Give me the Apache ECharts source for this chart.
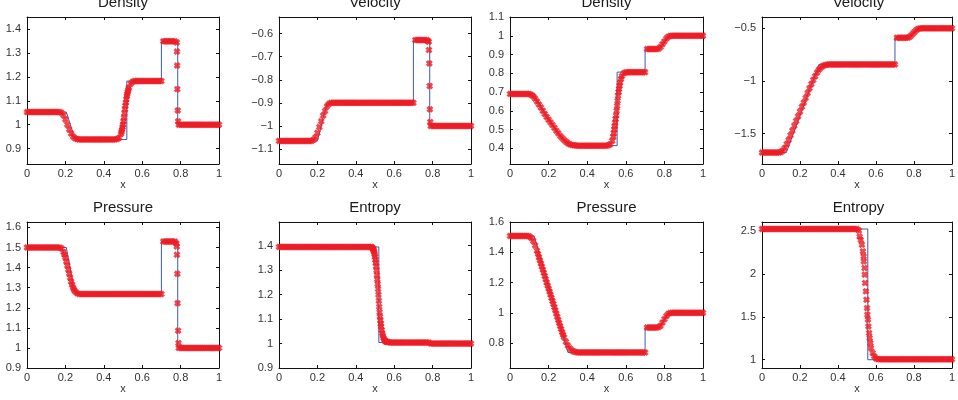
<!DOCTYPE html>
<html>
<head>
<meta charset="utf-8">
<script src="https://cdn.jsdelivr.net/npm/echarts@6/dist/echarts.min.js"></script>
<style>
  html, body { margin: 0; padding: 0; background: #fff; }
  #main { width: 958px; height: 400px; }
</style>
</head>
<body>
<div id="main"></div>
<script>
// mesh points of the numerical solution
const gridX = [
  0, 0.01, 0.02, 0.03, 0.04, 0.05, 0.06, 0.07, 0.08, 0.09,
  0.1, 0.11, 0.12, 0.13, 0.14, 0.15, 0.16, 0.17, 0.18, 0.19,
  0.2, 0.21, 0.22, 0.23, 0.24, 0.25, 0.26, 0.27, 0.28, 0.29,
  0.3, 0.31, 0.32, 0.33, 0.34, 0.35, 0.36, 0.37, 0.38, 0.39,
  0.4, 0.41, 0.42, 0.43, 0.44, 0.45, 0.46, 0.47, 0.48, 0.49,
  0.5, 0.51, 0.52, 0.53, 0.54, 0.55, 0.56, 0.57, 0.58, 0.59,
  0.6, 0.61, 0.62, 0.63, 0.64, 0.65, 0.66, 0.67, 0.68, 0.69,
  0.7, 0.71, 0.72, 0.73, 0.74, 0.75, 0.76, 0.77, 0.78, 0.79,
  0.8, 0.81, 0.82, 0.83, 0.84, 0.85, 0.86, 0.87, 0.88, 0.89,
  0.9, 0.91, 0.92, 0.93, 0.94, 0.95, 0.96, 0.97, 0.98, 0.99,
  1
];

/* ---- left problem ---- */
const numRho1 = [
  1.053, 1.053, 1.053, 1.053, 1.053, 1.053, 1.053, 1.053, 1.053, 1.053,
  1.053, 1.053, 1.053, 1.053, 1.053, 1.053, 1.053, 1.053, 1.05, 1.04,
  1.022, 1.0, 0.98, 0.963, 0.95, 0.943, 0.94, 0.938, 0.938, 0.938,
  0.938, 0.938, 0.938, 0.938, 0.938, 0.938, 0.938, 0.938, 0.938, 0.938,
  0.938, 0.938, 0.938, 0.938, 0.938, 0.938, 0.938, 0.94, 0.945, 0.962,
  1.0, 1.065, 1.12, 1.155, 1.172, 1.18, 1.183, 1.183, 1.183, 1.183,
  1.183, 1.183, 1.183, 1.183, 1.183, 1.183, 1.183, 1.183, 1.183, 1.183,
  1.183, 1.35, 1.35, 1.35, 1.35, 1.35, 1.35, 1.35, 1.345, 1.0,
  1.0, 1.0, 1.0, 1.0, 1.0, 1.0, 1.0, 1.0, 1.0, 1.0,
  1.0, 1.0, 1.0, 1.0, 1.0, 1.0, 1.0, 1.0, 1.0, 1.0,
  1.0
];
const fineRho1 = [
  [0.4925, 0.97], [0.495, 0.979], [0.4975, 0.989], [0.5025, 1.014], [0.505, 1.03],
  [0.5075, 1.048], [0.5125, 1.08], [0.515, 1.093], [0.5175, 1.107], [0.5225, 1.129],
  [0.525, 1.138], [0.5275, 1.147], [0.781, 1.307], [0.782, 1.248], [0.783, 1.149],
  [0.785, 1.06], [0.787, 1.014]
];
const exactRho1 = [
  [0, 1.053], [0.205, 1.053], [0.25, 0.938], [0.52, 0.938], [0.52, 1.183],
  [0.7, 1.183], [0.7, 1.35], [0.785, 1.35], [0.785, 1.0], [1, 1.0]
];
const ticksRho1 = [0.9, 1, 1.1, 1.2, 1.3, 1.4];

const numU1 = [
  -1.065, -1.065, -1.065, -1.065, -1.065, -1.065, -1.065, -1.065, -1.065, -1.065,
  -1.065, -1.065, -1.065, -1.065, -1.065, -1.065, -1.065, -1.065, -1.06, -1.05,
  -1.03, -1.005, -0.98, -0.955, -0.935, -0.915, -0.905, -0.9, -0.9, -0.9,
  -0.9, -0.9, -0.9, -0.9, -0.9, -0.9, -0.9, -0.9, -0.9, -0.9,
  -0.9, -0.9, -0.9, -0.9, -0.9, -0.9, -0.9, -0.9, -0.9, -0.9,
  -0.9, -0.9, -0.9, -0.9, -0.9, -0.9, -0.9, -0.9, -0.9, -0.9,
  -0.9, -0.9, -0.9, -0.9, -0.9, -0.9, -0.9, -0.9, -0.9, -0.9,
  -0.9, -0.628, -0.628, -0.628, -0.628, -0.628, -0.628, -0.628, -0.635, -1.0,
  -1.0, -1.0, -1.0, -1.0, -1.0, -1.0, -1.0, -1.0, -1.0, -1.0,
  -1.0, -1.0, -1.0, -1.0, -1.0, -1.0, -1.0, -1.0, -1.0, -1.0,
  -1.0
];
const fineU1 = [
  [0.775, -0.632], [0.781, -0.671], [0.783, -0.729], [0.785, -0.827],
  [0.786, -0.928], [0.788, -0.983]
];
const exactU1 = [
  [0, -1.065], [0.2, -1.065], [0.25, -0.9], [0.7, -0.9], [0.7, -0.628],
  [0.785, -0.628], [0.785, -1.0], [1, -1.0]
];
const ticksU1 = [-1.1, -1, -0.9, -0.8, -0.7, -0.6];

const numP1 = [
  1.5, 1.5, 1.5, 1.5, 1.5, 1.5, 1.5, 1.5, 1.5, 1.5,
  1.5, 1.5, 1.5, 1.5, 1.5, 1.5, 1.5, 1.5, 1.495, 1.478,
  1.45, 1.41, 1.37, 1.33, 1.3, 1.282, 1.273, 1.269, 1.268, 1.268,
  1.268, 1.268, 1.268, 1.268, 1.268, 1.268, 1.268, 1.268, 1.268, 1.268,
  1.268, 1.268, 1.268, 1.268, 1.268, 1.268, 1.268, 1.268, 1.268, 1.268,
  1.268, 1.268, 1.268, 1.268, 1.268, 1.268, 1.268, 1.268, 1.268, 1.268,
  1.268, 1.268, 1.268, 1.268, 1.268, 1.268, 1.268, 1.268, 1.268, 1.268,
  1.268, 1.53, 1.53, 1.53, 1.53, 1.53, 1.53, 1.53, 1.505, 1.0,
  1.0, 1.0, 1.0, 1.0, 1.0, 1.0, 1.0, 1.0, 1.0, 1.0,
  1.0, 1.0, 1.0, 1.0, 1.0, 1.0, 1.0, 1.0, 1.0, 1.0,
  1.0
];
const fineP1 = [
  [0.195, 1.465], [0.205, 1.43], [0.215, 1.39], [0.225, 1.35], [0.235, 1.315],
  [0.245, 1.29], [0.778, 1.52], [0.781, 1.464], [0.783, 1.369], [0.784, 1.223],
  [0.787, 1.086], [0.789, 1.024]
];
const exactP1 = [
  [0, 1.5], [0.205, 1.5], [0.25, 1.268], [0.7, 1.268], [0.7, 1.53],
  [0.785, 1.53], [0.785, 1.0], [1, 1.0]
];
const ticksP1 = [0.9, 1, 1.1, 1.2, 1.3, 1.4, 1.5, 1.6];

const numS1 = [
  1.395, 1.395, 1.395, 1.395, 1.395, 1.395, 1.395, 1.395, 1.395, 1.395,
  1.395, 1.395, 1.395, 1.395, 1.395, 1.395, 1.395, 1.395, 1.395, 1.395,
  1.395, 1.395, 1.395, 1.395, 1.395, 1.395, 1.395, 1.395, 1.395, 1.395,
  1.395, 1.395, 1.395, 1.395, 1.395, 1.395, 1.395, 1.395, 1.395, 1.395,
  1.395, 1.395, 1.395, 1.395, 1.395, 1.395, 1.395, 1.395, 1.395, null,
  null, null, null, null, null, null, null, 1.006, 1.004, 1.004,
  1.004, 1.004, 1.004, 1.004, 1.004, 1.004, 1.004, 1.004, 1.004, 1.004,
  1.004, 1.004, 1.004, 1.004, 1.004, 1.004, 1.004, 1.004, 1.004, 1.0,
  1.0, 1.0, 1.0, 1.0, 1.0, 1.0, 1.0, 1.0, 1.0, 1.0,
  1.0, 1.0, 1.0, 1.0, 1.0, 1.0, 1.0, 1.0, 1.0, 1.0,
  1.0
];
const fineS1 = [
  [0.484, 1.394], [0.488, 1.39], [0.49, 1.387], [0.492, 1.384], [0.494, 1.379],
  [0.496, 1.373], [0.498, 1.365], [0.5, 1.355], [0.502, 1.343], [0.504, 1.33],
  [0.506, 1.316], [0.508, 1.299], [0.51, 1.28], [0.512, 1.262], [0.514, 1.243],
  [0.516, 1.223], [0.518, 1.2], [0.52, 1.175], [0.522, 1.15], [0.524, 1.128],
  [0.526, 1.11], [0.528, 1.095], [0.53, 1.081], [0.532, 1.07], [0.535, 1.055],
  [0.538, 1.042], [0.541, 1.032], [0.544, 1.023], [0.548, 1.016], [0.552, 1.011],
  [0.556, 1.008], [0.56, 1.007], [0.565, 1.006]
];
const exactS1 = [
  [0, 1.395], [0.52, 1.395], [0.52, 1.004], [0.785, 1.004], [0.785, 1.0], [1, 1.0]
];
const ticksS1 = [0.9, 1, 1.1, 1.2, 1.3, 1.4];

/* ---- right problem ---- */
const numRho2 = [
  0.69, 0.69, 0.69, 0.69, 0.69, 0.69, 0.69, 0.69, 0.69, 0.69,
  0.69, 0.685, 0.677, 0.665, 0.65, 0.634, 0.617, 0.6, 0.583, 0.567,
  0.552, 0.538, 0.524, 0.509, 0.494, 0.48, 0.466, 0.455, 0.444, 0.435,
  0.427, 0.421, 0.418, 0.416, 0.415, 0.414, 0.414, 0.414, 0.414, 0.414,
  0.414, 0.414, 0.414, 0.414, 0.414, 0.414, 0.414, 0.414, 0.414, 0.414,
  0.414, 0.416, 0.422, 0.44, 0.5, 0.575, 0.68, 0.75, 0.785, 0.8,
  0.805, 0.806, 0.806, 0.806, 0.806, 0.806, 0.806, 0.806, 0.806, 0.806,
  0.806, 0.929, 0.929, 0.929, 0.929, 0.929, 0.929, 0.931, 0.94, 0.955,
  0.97, 0.985, 0.995, 0.999, 1.0, 1.0, 1.0, 1.0, 1.0, 1.0,
  1.0, 1.0, 1.0, 1.0, 1.0, 1.0, 1.0, 1.0, 1.0, 1.0,
  1.0
];
const fineRho2 = [
  [0.535, 0.462], [0.5375, 0.48], [0.5425, 0.518], [0.545, 0.537], [0.5475, 0.556],
  [0.5525, 0.6], [0.555, 0.626], [0.5575, 0.653], [0.5625, 0.7], [0.565, 0.716],
  [0.5675, 0.733], [0.575, 0.77]
];
const exactRho2 = [
  [0, 0.69], [0.125, 0.69], [0.17, 0.607], [0.22, 0.526], [0.26, 0.466],
  [0.3, 0.414], [0.555, 0.414], [0.555, 0.806], [0.7, 0.806], [0.7, 0.929],
  [0.775, 0.929], [0.825, 1.0], [1, 1.0]
];
const ticksRho2 = [0.4, 0.5, 0.6, 0.7, 0.8, 0.9, 1, 1.1];

const numU2 = [
  -1.68, -1.68, -1.68, -1.68, -1.68, -1.68, -1.68, -1.68, -1.68, -1.68,
  -1.675, -1.66, -1.635, -1.6, -1.56, -1.515, -1.47, -1.425, -1.38, -1.335,
  -1.29, -1.245, -1.205, -1.16, -1.115, -1.07, -1.03, -0.99, -0.955, -0.92,
  -0.893, -0.873, -0.858, -0.85, -0.845, -0.843, -0.843, -0.843, -0.843, -0.843,
  -0.843, -0.843, -0.843, -0.843, -0.843, -0.843, -0.843, -0.843, -0.843, -0.843,
  -0.843, -0.843, -0.843, -0.843, -0.843, -0.843, -0.843, -0.843, -0.843, -0.843,
  -0.843, -0.843, -0.843, -0.843, -0.843, -0.843, -0.843, -0.843, -0.843, -0.843,
  -0.843, -0.59, -0.59, -0.59, -0.59, -0.59, -0.59, -0.588, -0.578, -0.56,
  -0.54, -0.522, -0.508, -0.502, -0.5, -0.5, -0.5, -0.5, -0.5, -0.5,
  -0.5, -0.5, -0.5, -0.5, -0.5, -0.5, -0.5, -0.5, -0.5, -0.5,
  -0.5
];
const fineU2 = [];
const exactU2 = [
  [0, -1.68], [0.128, -1.68], [0.3, -0.843], [0.7, -0.843], [0.7, -0.59],
  [0.775, -0.59], [0.825, -0.5], [1, -0.5]
];
const ticksU2 = [-1.5, -1, -0.5];

const numP2 = [
  1.508, 1.508, 1.508, 1.508, 1.508, 1.508, 1.508, 1.508, 1.508, 1.508,
  1.505, 1.495, 1.475, 1.445, 1.41, 1.367, 1.326, 1.285, 1.243, 1.2,
  1.16, 1.12, 1.078, 1.037, 0.995, 0.953, 0.912, 0.872, 0.838, 0.808,
  0.783, 0.765, 0.752, 0.744, 0.74, 0.738, 0.738, 0.738, 0.738, 0.738,
  0.738, 0.738, 0.738, 0.738, 0.738, 0.738, 0.738, 0.738, 0.738, 0.738,
  0.738, 0.738, 0.738, 0.738, 0.738, 0.738, 0.738, 0.738, 0.738, 0.738,
  0.738, 0.738, 0.738, 0.738, 0.738, 0.738, 0.738, 0.738, 0.738, 0.738,
  0.738, 0.902, 0.902, 0.902, 0.902, 0.902, 0.902, 0.905, 0.915, 0.935,
  0.958, 0.978, 0.993, 0.999, 1.0, 1.0, 1.0, 1.0, 1.0, 1.0,
  1.0, 1.0, 1.0, 1.0, 1.0, 1.0, 1.0, 1.0, 1.0, 1.0,
  1.0
];
const fineP2 = [
  [0.145, 1.389], [0.155, 1.347], [0.165, 1.306], [0.175, 1.264], [0.185, 1.222],
  [0.195, 1.18], [0.205, 1.14], [0.215, 1.099], [0.225, 1.058], [0.235, 1.016],
  [0.245, 0.974], [0.255, 0.933], [0.265, 0.892], [0.275, 0.855]
];
const exactP2 = [
  [0, 1.508], [0.125, 1.508], [0.3, 0.738], [0.7, 0.738], [0.7, 0.902],
  [0.775, 0.902], [0.825, 1.0], [1, 1.0]
];
const ticksP2 = [0.8, 1, 1.2, 1.4, 1.6];

const numS2 = [
  2.528, 2.528, 2.528, 2.528, 2.528, 2.528, 2.528, 2.528, 2.528, 2.528,
  2.528, 2.528, 2.528, 2.528, 2.528, 2.528, 2.528, 2.528, 2.528, 2.528,
  2.528, 2.528, 2.528, 2.528, 2.528, 2.528, 2.528, 2.528, 2.528, 2.528,
  2.528, 2.528, 2.528, 2.528, 2.528, 2.528, 2.528, 2.528, 2.528, 2.528,
  2.528, 2.528, 2.528, 2.528, 2.528, 2.528, 2.528, 2.528, 2.528, 2.528,
  2.528, 2.51, null, null, null, null, null, null, null, null,
  1.015, 1.008, 1.005, 1.005, 1.005, 1.005, 1.005, 1.005, 1.005, 1.005,
  1.005, 1.005, 1.005, 1.005, 1.005, 1.005, 1.005, 1.005, 1.005, 1.005,
  1.005, 1.005, 1.005, 1.005, 1.005, 1.005, 1.005, 1.005, 1.005, 1.005,
  1.005, 1.005, 1.005, 1.005, 1.005, 1.005, 1.005, 1.005, 1.005, 1.005,
  1.005
];
const fineS2 = [
  [0.514, 2.44], [0.52, 2.4], [0.526, 2.344], [0.531, 2.266], [0.535, 2.208],
  [0.536, 2.149], [0.54, 2.072], [0.541, 1.994], [0.543, 1.897], [0.547, 1.8],
  [0.55, 1.701], [0.553, 1.604], [0.555, 1.526], [0.558, 1.468], [0.56, 1.389],
  [0.564, 1.311], [0.567, 1.253], [0.571, 1.195], [0.574, 1.136], [0.583, 1.078],
  [0.591, 1.039]
];
const exactS2 = [[0, 2.528], [0.557, 2.528], [0.557, 1.0], [1, 1.0]];
const ticksS2 = [1, 1.5, 2, 2.5];

// panels in reading order, 4 per row
const panels = [
  { title: 'Density',  exact: exactRho1, num: numRho1, fine: fineRho1, ticks: ticksRho1, min: 0.835, max: 1.452 },
  { title: 'Velocity', exact: exactU1,   num: numU1,   fine: fineU1,   ticks: ticksU1,   min: -1.165, max: -0.528 },
  { title: 'Density',  exact: exactRho2, num: numRho2, fine: fineRho2, ticks: ticksRho2, min: 0.316, max: 1.1 },
  { title: 'Velocity', exact: exactU2,   num: numU2,   fine: fineU2,   ticks: ticksU2,   min: -1.788, max: -0.393 },
  { title: 'Pressure', exact: exactP1,   num: numP1,   fine: fineP1,   ticks: ticksP1,   min: 0.9, max: 1.627 },
  { title: 'Entropy',  exact: exactS1,   num: numS1,   fine: fineS1,   ticks: ticksS1,   min: 0.9, max: 1.497 },
  { title: 'Pressure', exact: exactP2,   num: numP2,   fine: fineP2,   ticks: ticksP2,   min: 0.635, max: 1.6 },
  { title: 'Entropy',  exact: exactS2,   num: numS2,   fine: fineS2,   ticks: ticksS2,   min: 0.903, max: 2.61 }
];

const colLeft = [27, 279, 510, 762];
const colWidth = [192, 192, 193, 193];
const rowTop = [17, 222];
const rowHeight = [147, 146];

const FONT = '"Liberation Sans", Helvetica, Arial, sans-serif';
// bold "x" marker
const crossSymbol = 'path://M0,3L3,0L5,2L7,0L10,3L8,5L10,7L7,10L5,8L3,10L0,7L2,5Z';
const fmt = v => String(+v.toFixed(3)).replace('-', '\u2212');

const option = {
  animation: false,
  backgroundColor: '#fff',
  title: [], grid: [], xAxis: [], yAxis: [], series: []
};

panels.forEach((p, i) => {
  const col = i % 4, row = Math.floor(i / 4);
  const left = colLeft[col], top = rowTop[row];
  const w = colWidth[col], h = rowHeight[row];

  option.grid.push({ left: left, top: top, width: w, height: h });
  option.title.push({
    text: p.title, left: left + w / 2, top: top - 22, textAlign: 'center', padding: 0,
    textStyle: { fontFamily: FONT, fontSize: 15, fontWeight: 'normal', color: '#1a1a1a' }
  });

  const lineStyle = { lineStyle: { color: '#111', width: 1 }, onZero: false };
  const tick = { inside: true, length: 3, lineStyle: { color: '#111' } };
  // bottom x axis with labels, top one only for the ticks of the box
  option.xAxis.push({
    type: 'value', gridIndex: i, min: 0, max: 1, interval: 0.2, position: 'bottom',
    axisLine: lineStyle, axisTick: tick, splitLine: { show: false },
    name: 'x', nameLocation: 'middle', nameGap: 15,
    nameTextStyle: { fontFamily: FONT, fontSize: 11, color: '#333' },
    axisLabel: { fontFamily: FONT, fontSize: 11, color: '#333', margin: 4, formatter: fmt }
  });
  option.xAxis.push({
    type: 'value', gridIndex: i, min: 0, max: 1, interval: 0.2, position: 'top',
    axisLine: lineStyle, axisTick: tick, splitLine: { show: false }, axisLabel: { show: false }
  });
  option.yAxis.push({
    type: 'value', gridIndex: i, min: p.min, max: p.max, position: 'left',
    axisLine: lineStyle, axisTick: Object.assign({ customValues: p.ticks }, tick),
    splitLine: { show: false },
    axisLabel: { customValues: p.ticks, fontFamily: FONT, fontSize: 11, color: '#333', margin: 6, formatter: fmt }
  });
  option.yAxis.push({
    type: 'value', gridIndex: i, min: p.min, max: p.max, position: 'right',
    axisLine: lineStyle, axisTick: Object.assign({ customValues: p.ticks }, tick),
    splitLine: { show: false }, axisLabel: { show: false }
  });

  const pts = [];
  gridX.forEach((x, k) => { if (p.num[k] !== null) pts.push([x, p.num[k]]); });
  p.fine.forEach(d => pts.push(d));

  option.series.push({
    type: 'line', xAxisIndex: 2 * i, yAxisIndex: 2 * i, data: p.exact,
    showSymbol: false, symbol: 'none', z: 2,
    lineStyle: { color: '#3d5ba8', width: 1 }
  });
  option.series.push({
    type: 'scatter', xAxisIndex: 2 * i, yAxisIndex: 2 * i, data: pts,
    symbol: crossSymbol, symbolSize: 7, clip: false, z: 3,
    itemStyle: { color: '#ed1c24' }
  });
});

const chart = echarts.init(document.getElementById('main'), null, { renderer: 'canvas' });
chart.setOption(option);
</script>
</body>
</html>
